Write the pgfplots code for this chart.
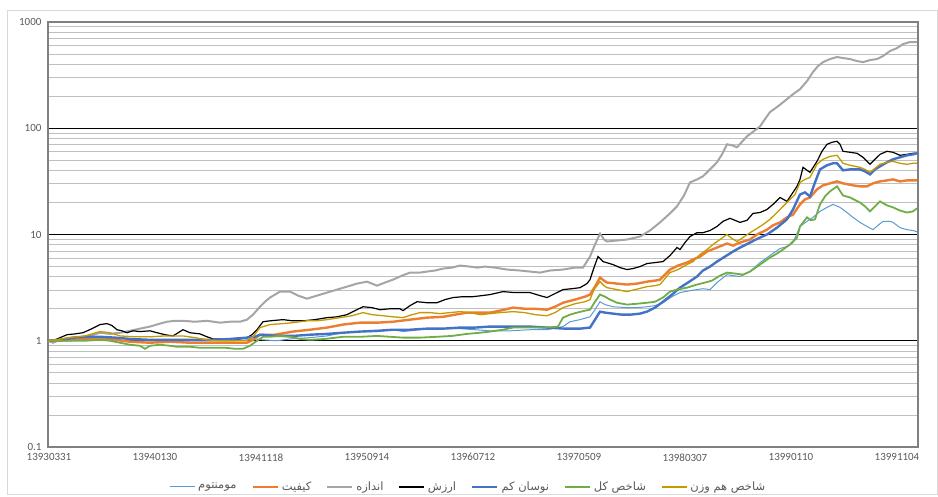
\documentclass[border=0pt]{standalone}
\usepackage{pgfplots}
\pgfplotsset{compat=1.18}
\usepackage{fontspec}
\setmainfont{Carlito}
\newfontfamily\fa[Script=Arabic]{DejaVu Sans}
\TeXXeTstate=1
\definecolor{cMom}{HTML}{5B9BD5}
\definecolor{cQual}{HTML}{ED7D31}
\definecolor{cSize}{HTML}{A5A5A5}
\definecolor{cVal}{HTML}{000000}
\definecolor{cLow}{HTML}{4472C4}
\definecolor{cTot}{HTML}{70AD47}
\definecolor{cEq}{HTML}{C49A00}
\definecolor{gridgray}{HTML}{BFBFBF}
\definecolor{axgray}{HTML}{808080}
\definecolor{labgray}{HTML}{595959}
\definecolor{framegray}{HTML}{D9D9D9}
\begin{document}
\begin{tikzpicture}
\begin{axis}[
  name=ax, scale only axis, width=870pt, height=425pt,
  xmin=48, xmax=918, ymode=log, ymin=0.1, ymax=1000,
  xtick={49,155,261,367,473,579,685,791,897},
  xticklabels={13930331,13940130,13941118,13950914,13960712,13970509,13980307,13990110,13991104},
  ytick={0.1,1,10,100,1000}, yticklabels={0.1,1,10,100,1000},
  minor ytick={0.2,0.3,0.4,0.5,0.6,0.7,0.8,0.9,2,3,4,5,6,7,8,9,20,30,40,50,60,70,80,90,200,300,400,500,600,700,800,900},
  ymajorgrids, yminorgrids,
  major grid style={black, line width=0.8pt},
  minor grid style={color=gridgray, line width=0.9pt},
  major tick length=0pt, minor tick length=0pt,
  x axis line style={black, line width=0.9pt},
  y axis line style={color=axgray, line width=1.8pt},
  tick label style={font=\fontsize{11}{13}\selectfont, text=labgray},
  xticklabel style={yshift=-3pt},
  yticklabel style={xshift=-3pt},
  legend style={at={(0.483,-0.072)}, anchor=north, legend columns=7, draw=none, fill=none,
    font=\fa\fontsize{11.5}{13}\selectfont, text=labgray,
    /tikz/every odd column/.append style={column sep=1pt},
    /tikz/every even column/.append style={column sep=13pt}},
  legend cell align=left,
  legend image code/.code={\draw[#1] (0pt,0pt) -- (25pt,0pt);},
]
\addplot[cMom, line width=1.0pt] coordinates {
(48,1.00)(60,1.00)(75,1.02)(90,1.04)(100,1.04)(115,1.02)(130,1.00)(150,1.00)(170,1.00)(190,1.00)(213,1.00)(235,1.00)(247,1.02)(255,1.04)(263,1.02)(277,1.00)(290,1.04)(310,1.07)(327,1.11)(343,1.19)(360,1.22)(377,1.22)(393,1.27)(403,1.22)(410,1.24)(427,1.30)(443,1.30)(460,1.30)(475,1.27)(490,1.24)(510,1.24)(530,1.27)(547,1.27)(563,1.36)(570,1.51)(580,1.58)(590,1.68)(595,1.96)(600,2.33)(605,2.19)(613,2.09)(627,2.05)(637,2.05)(647,2.09)(655,2.14)(663,2.28)(672,2.60)(680,2.84)(690,2.96)(697,3.03)(703,3.09)(710,3.03)(717,3.53)(727,4.19)(733,4.10)(740,4.02)(750,4.48)(760,5.44)(770,6.34)(780,7.38)(787,7.71)(793,8.40)(800,11.9)(807,13.3)(813,14.5)(820,16.5)(827,18.0)(833,19.2)(840,18.0)(847,16.1)(853,14.5)(860,13.0)(867,11.9)(873,11.1)(878,12.2)(883,13.3)(890,13.3)(893,13.0)(900,11.6)(907,11.1)(913,10.9)(917,10.6)};
\addlegendentry{\beginR مومنتوم\endR}
\addplot[cQual, line width=2.4pt] coordinates {
(48,1.00)(60,1.00)(75,1.02)(90,1.04)(100,1.07)(115,1.02)(130,0.979)(150,0.958)(170,0.979)(190,0.958)(213,0.958)(230,0.958)(247,0.958)(253,1.02)(260,1.14)(275,1.14)(293,1.22)(310,1.27)(327,1.33)(343,1.42)(360,1.48)(377,1.48)(393,1.51)(410,1.58)(427,1.65)(443,1.68)(455,1.76)(467,1.84)(480,1.84)(490,1.84)(500,1.92)(513,2.05)(525,2.00)(535,2.00)(547,1.96)(555,2.09)(563,2.28)(575,2.44)(585,2.60)(590,2.72)(595,3.23)(600,3.93)(604,3.68)(607,3.53)(617,3.45)(627,3.38)(637,3.45)(647,3.60)(655,3.68)(660,3.76)(665,4.19)(670,4.68)(678,5.10)(687,5.44)(693,5.81)(700,6.20)(707,6.91)(717,7.54)(727,8.22)(733,7.87)(740,8.40)(750,8.97)(757,10.0)(767,11.1)(773,12.2)(780,13.0)(787,14.5)(793,15.4)(800,19.2)(805,21.4)(810,22.3)(817,26.6)(823,29.0)(830,30.3)(837,31.6)(843,30.3)(853,29.0)(860,28.4)(867,28.4)(873,30.3)(880,31.6)(887,32.3)(893,33.0)(900,31.6)(907,32.3)(913,32.3)(917,32.3)};
\addlegendentry{\beginR کیفیت\endR}
\addplot[cSize, line width=2.0pt] coordinates {
(48,1.00)(53,0.958)(60,1.02)(70,1.07)(80,1.09)(90,1.11)(100,1.19)(110,1.16)(120,1.19)(130,1.24)(140,1.30)(150,1.36)(160,1.45)(167,1.51)(175,1.54)(183,1.54)(195,1.51)(207,1.54)(220,1.48)(230,1.51)(240,1.51)(247,1.58)(253,1.76)(260,2.09)(265,2.33)(270,2.55)(280,2.90)(290,2.90)(298,2.66)(307,2.49)(317,2.66)(327,2.84)(337,3.03)(347,3.23)(357,3.45)(367,3.60)(377,3.30)(385,3.53)(393,3.76)(402,4.10)(410,4.38)(420,4.38)(427,4.48)(435,4.58)(443,4.78)(452,4.88)(460,5.10)(470,4.99)(477,4.88)(485,4.99)(495,4.88)(507,4.68)(520,4.58)(530,4.48)(540,4.38)(550,4.58)(563,4.68)(575,4.88)(583,4.88)(590,6.20)(595,8.05)(600,10.2)(604,8.97)(607,8.59)(617,8.78)(627,8.97)(640,9.57)(650,10.9)(660,13.0)(670,15.8)(677,18.4)(684,23.3)(690,30.9)(697,33.0)(703,35.3)(710,41.0)(717,47.8)(722,56.8)(727,70.6)(732,69.1)(737,66.2)(747,84.0)(755,95.7)(760,104)(765,122)(770,142)(778,161)(787,188)(793,209)(800,233)(807,278)(813,338)(818,385)(823,419)(830,448)(837,468)(843,458)(850,448)(857,429)(863,419)(870,438)(877,448)(883,478)(890,533)(897,568)(903,620)(910,648)(917,648)};
\addlegendentry{\beginR اندازه\endR}
\addplot[cVal, line width=1.2pt] coordinates {
(48,1.00)(55,1.02)(67,1.14)(75,1.16)(83,1.19)(92,1.30)(100,1.42)(107,1.45)(112,1.39)(117,1.27)(122,1.24)(127,1.19)(133,1.24)(140,1.22)(150,1.24)(157,1.19)(165,1.14)(173,1.11)(180,1.22)(183,1.27)(190,1.19)(200,1.16)(207,1.09)(213,1.04)(223,1.04)(233,1.04)(240,1.04)(247,1.07)(252,1.14)(257,1.27)(263,1.51)(270,1.54)(283,1.58)(293,1.54)(303,1.54)(315,1.58)(327,1.65)(337,1.68)(347,1.76)(355,1.92)(363,2.09)(372,2.05)(380,1.96)(390,2.00)(400,2.00)(403,1.92)(410,2.14)(417,2.33)(427,2.28)(437,2.28)(445,2.44)(453,2.55)(463,2.60)(473,2.60)(482,2.66)(490,2.72)(503,2.90)(515,2.84)(530,2.84)(540,2.66)(547,2.55)(555,2.78)(563,3.03)(572,3.09)(580,3.16)(587,3.45)(590,3.76)(594,4.88)(598,6.20)(603,5.56)(613,5.21)(620,4.88)(627,4.68)(633,4.78)(640,4.99)(647,5.33)(655,5.44)(663,5.56)(670,6.34)(677,7.54)(680,7.22)(685,8.40)(690,9.57)(697,10.4)(703,10.4)(710,10.9)(717,11.9)(723,13.3)(730,14.2)(735,13.6)(740,13.0)(747,13.6)(753,15.8)(760,16.1)(767,17.2)(773,19.2)(780,22.3)(787,20.5)(793,24.9)(797,28.4)(800,33.0)(803,42.9)(807,40.2)(810,38.5)(817,48.8)(822,60.7)(827,70.6)(832,73.8)(837,75.4)(840,70.6)(843,60.7)(850,59.4)(857,58.1)(863,53.3)(867,48.8)(870,45.8)(875,51.0)(880,56.8)(887,60.7)(893,59.4)(900,55.6)(907,56.8)(913,58.1)(917,58.1)};
\addlegendentry{\beginR ارزش\endR}
\addplot[cLow, line width=2.4pt] coordinates {
(48,1.00)(60,1.02)(75,1.07)(90,1.09)(100,1.09)(115,1.07)(130,1.04)(150,1.02)(170,1.02)(190,1.02)(213,1.02)(230,1.04)(247,1.07)(255,1.09)(260,1.14)(280,1.11)(293,1.11)(310,1.14)(327,1.16)(343,1.19)(360,1.22)(377,1.24)(393,1.27)(410,1.27)(427,1.30)(443,1.30)(460,1.33)(475,1.33)(490,1.36)(510,1.36)(530,1.36)(547,1.33)(565,1.30)(580,1.30)(590,1.33)(595,1.58)(600,1.88)(605,1.84)(613,1.80)(622,1.76)(630,1.76)(640,1.80)(647,1.88)(655,2.05)(663,2.33)(672,2.72)(680,3.16)(688,3.53)(697,4.02)(703,4.58)(710,4.99)(717,5.56)(725,6.20)(733,6.91)(740,7.54)(750,8.40)(758,9.17)(767,10.0)(777,11.6)(787,13.9)(793,17.2)(800,23.8)(805,24.9)(810,22.8)(815,30.9)(820,41.0)(827,44.8)(833,46.8)(837,46.8)(843,40.2)(850,41.0)(860,41.0)(865,39.3)(870,36.8)(875,41.0)(880,43.8)(887,47.8)(893,51.0)(900,53.3)(907,55.6)(913,56.8)(917,58.1)};
\addlegendentry{\beginR نوسان کم\endR}
\addplot[cTot, line width=1.8pt] coordinates {
(48,1.00)(55,1.00)(70,1.00)(85,1.00)(100,1.02)(110,1.00)(120,0.958)(130,0.917)(140,0.897)(145,0.840)(150,0.897)(160,0.917)(170,0.897)(177,0.878)(190,0.878)(200,0.859)(213,0.859)(225,0.859)(235,0.840)(243,0.840)(250,0.897)(257,1.00)(263,1.09)(270,1.09)(280,1.11)(290,1.09)(300,1.04)(310,1.02)(325,1.04)(343,1.09)(360,1.09)(377,1.11)(390,1.09)(403,1.07)(420,1.07)(437,1.09)(452,1.11)(467,1.16)(480,1.19)(490,1.22)(503,1.27)(513,1.33)(530,1.33)(547,1.33)(558,1.36)(563,1.65)(570,1.76)(577,1.84)(585,1.92)(590,1.96)(595,2.33)(600,2.72)(605,2.60)(610,2.44)(617,2.28)(627,2.19)(637,2.23)(647,2.28)(655,2.33)(663,2.55)(670,2.90)(677,3.03)(687,3.16)(697,3.38)(705,3.53)(712,3.68)(720,4.10)(727,4.38)(735,4.29)(743,4.19)(750,4.48)(760,5.21)(770,6.07)(777,6.62)(783,7.22)(790,8.05)(797,9.37)(800,11.9)(807,14.5)(811,13.6)(815,13.9)(820,19.2)(825,22.8)(830,25.5)(837,28.4)(843,23.3)(850,22.3)(860,20.0)(865,18.4)(870,16.5)(875,18.4)(880,20.5)(887,18.8)(893,18.0)(900,16.8)(907,16.1)(913,16.5)(917,17.6)};
\addlegendentry{\beginR شاخص کل\endR}
\addplot[cEq, line width=1.3pt] coordinates {
(48,1.00)(55,1.02)(70,1.07)(85,1.11)(100,1.22)(110,1.19)(120,1.11)(135,1.09)(150,1.09)(165,1.11)(183,1.11)(195,1.07)(207,1.02)(217,1.00)(230,1.00)(240,1.00)(247,1.00)(253,1.09)(260,1.33)(270,1.42)(283,1.45)(293,1.48)(307,1.54)(317,1.54)(327,1.58)(340,1.65)(352,1.72)(363,1.84)(372,1.76)(383,1.72)(393,1.68)(403,1.65)(412,1.76)(420,1.84)(430,1.84)(440,1.80)(450,1.84)(460,1.88)(470,1.84)(480,1.76)(490,1.80)(500,1.84)(513,1.88)(525,1.84)(535,1.76)(547,1.72)(555,1.84)(563,2.05)(575,2.23)(585,2.33)(590,2.44)(594,3.03)(600,3.60)(604,3.30)(607,3.16)(617,3.03)(627,2.90)(635,3.03)(647,3.23)(655,3.30)(660,3.38)(665,3.85)(670,4.38)(678,4.68)(687,5.21)(693,5.56)(700,6.48)(707,7.22)(713,8.05)(720,8.97)(727,10.0)(732,9.17)(737,8.59)(743,9.37)(750,10.4)(757,11.4)(763,12.4)(770,13.9)(777,16.1)(783,18.4)(790,21.4)(795,23.8)(800,30.9)(805,33.0)(810,34.5)(817,45.8)(823,51.0)(830,54.4)(837,55.6)(843,46.8)(850,44.8)(860,42.9)(865,41.0)(870,38.5)(875,41.9)(880,45.8)(887,47.8)(893,48.8)(900,46.8)(907,45.8)(913,46.8)(917,46.8)};
\addlegendentry{\beginR شاخص هم وزن\endR}
\end{axis}
\draw[color=framegray, line width=0.75pt] ([xshift=-41pt,yshift=-47pt]ax.south west) rectangle ([xshift=19pt,yshift=12pt]ax.north east);
\path ([xshift=-48pt,yshift=-48pt]ax.south west) rectangle ([xshift=20pt,yshift=22pt]ax.north east);
\end{tikzpicture}
\end{document}
